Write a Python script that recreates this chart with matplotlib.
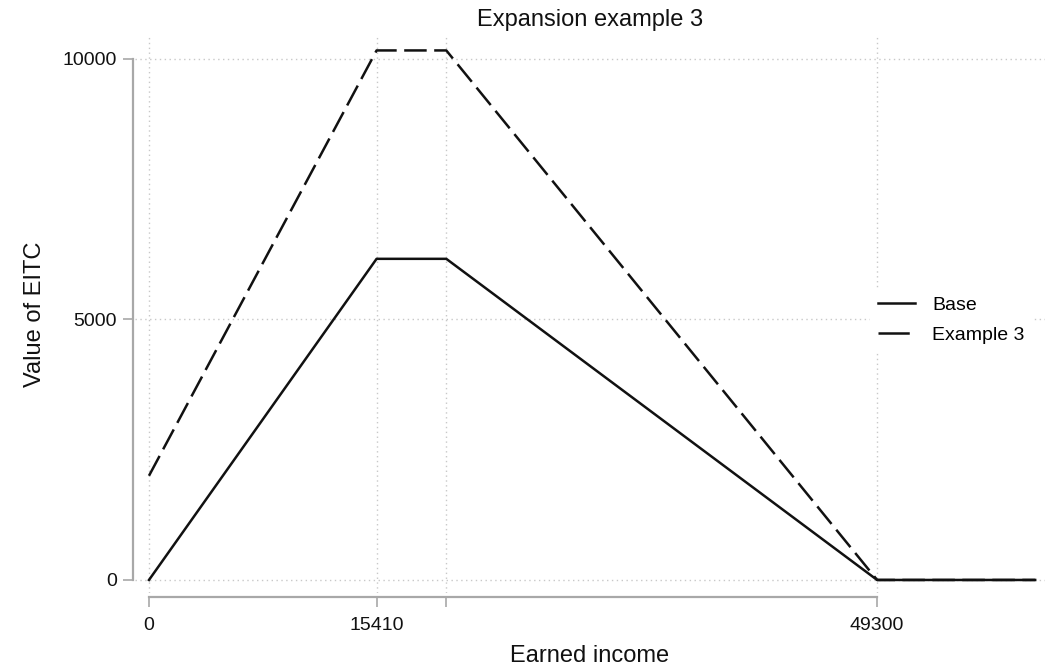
import matplotlib
matplotlib.use('Agg')
import matplotlib.pyplot as plt

plt.rcParams['font.family'] = ['Liberation Sans', 'DejaVu Sans']

# kink points of the two schedules
income = [0, 15410, 20130, 49300, 60000]
base = [0, 6164, 6164, 0, 0]
example3 = [2000, 10164, 10164, 0, 0]

xticks = [0, 15410, 20130, 49300]
xticklabels = ['0', '15410', '', '49300']
yticks = [0, 5000, 10000]

fig = plt.figure(figsize=(10.48, 6.68), dpi=100)
ax = fig.add_axes([0.1288, 0.1123, 0.8683, 0.8338])

grid_col = '#c8c8c8'
spine_col = '#a8a8a8'

for y in yticks:
    ax.axhline(y, color=grid_col, lw=1, ls=(0, (1, 2.5)), zorder=0)
for x in xticks:
    ax.axvline(x, color=grid_col, lw=1, ls=(0, (1, 2.5)), zorder=0)

ax.plot(income, base, color='#111111', lw=1.8, label='Base')
ax.plot(income, example3, color='#111111', lw=1.8, dashes=(9, 3), label='Example 3')

ax.set_xlim(-948, 60663)
ax.set_ylim(-250, 10441)

for s in ['top', 'right']:
    ax.spines[s].set_visible(False)
ax.spines['left'].set_position(('outward', 1.5))
ax.spines['bottom'].set_position(('outward', 3))
ax.spines['left'].set_bounds(0, 10000)
ax.spines['bottom'].set_bounds(0, 49300)
for s in ['left', 'bottom']:
    ax.spines[s].set_color(spine_col)
    ax.spines[s].set_linewidth(1.6)

ax.set_xticks(xticks)
ax.set_xticklabels(xticklabels)
ax.set_yticks(yticks)
ax.tick_params(axis='both', length=7.2, width=1.2, color=spine_col,
               labelsize=14, labelcolor='#111111')
ax.tick_params(axis='x', pad=7)
ax.tick_params(axis='y', pad=4.5)

ax.set_title('Expansion example 3', fontsize=17, pad=7, color='#111111')
ax.set_xlabel('Earned income', fontsize=17, labelpad=8, color='#111111')
ax.set_ylabel('Value of EITC', fontsize=17, labelpad=12, color='#111111')

leg = ax.legend(loc='center left', bbox_to_anchor=(0.797, 0.49),
                frameon=True, fontsize=14, handlelength=1.9, handletextpad=0.9,
                labelspacing=0.6, borderpad=0.4, fancybox=False)
leg.get_frame().set_edgecolor('white')
leg.get_frame().set_facecolor('white')
leg.get_frame().set_alpha(1)
# single dash in the legend key, as in the original
leg.get_lines()[1].set_dashes((12.5, 10))

fig.savefig('out.png', dpi=100, facecolor='white')
